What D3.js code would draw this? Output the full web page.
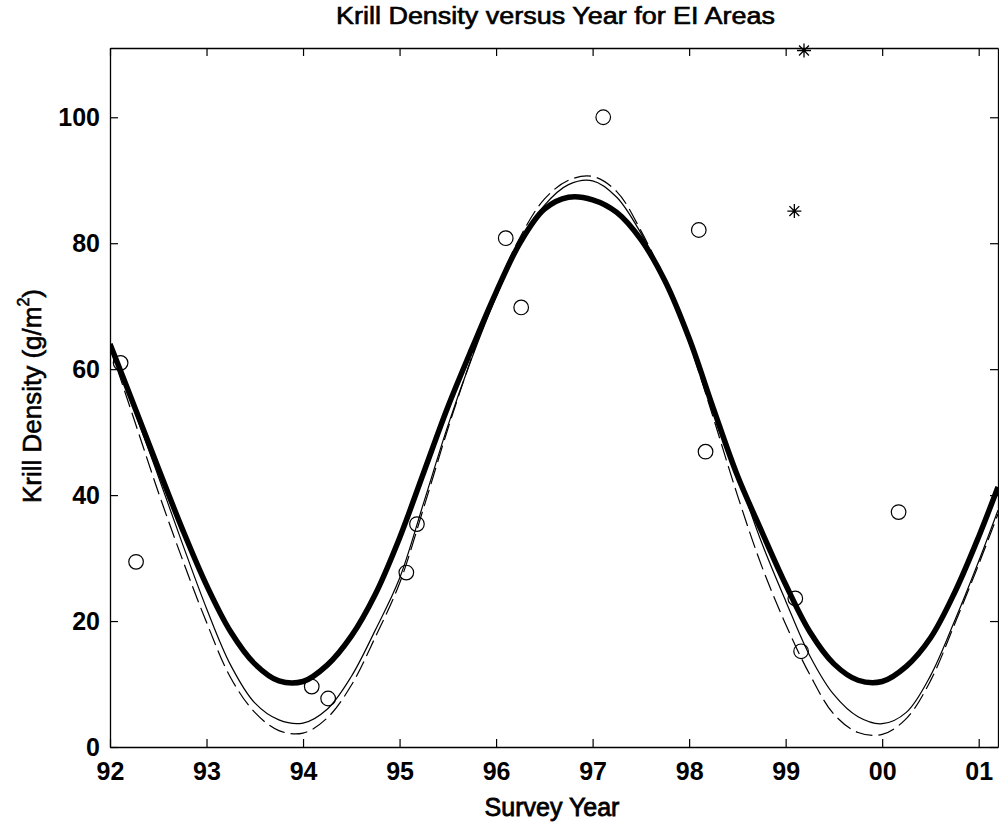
<!DOCTYPE html>
<html>
<head>
<meta charset="utf-8">
<script src="https://cdn.jsdelivr.net/npm/d3@7"></script>
<style>
  html, body { margin: 0; padding: 0; background: #fff; }
  svg { display: block; }
  text { font-family: "Liberation Sans", Arial, Helvetica, sans-serif; fill: #000; }
</style>
</head>
<body>
<svg id="chart" width="999" height="822"></svg>
<script>
// Survey observations (year, krill density g/m^2)
const obsYear    = [92.11, 92.27, 94.09, 94.26, 95.07, 95.18, 96.10, 96.26, 97.11, 98.10, 98.17, 99.10, 99.16, 100.17];
const obsDensity = [61.0, 29.4, 9.6, 7.7, 27.7, 35.4, 80.8, 69.8, 100.0, 82.1, 46.9, 23.6, 15.2, 37.3];

// Extra survey values marked with asterisks
const starYear    = [99.19, 99.09];
const starDensity = [110.6, 85.1];

// Fitted curves sampled along the survey years
const fitYear = [92.00, 92.25, 92.50, 92.75, 93.00, 93.25, 93.50, 93.75, 94.00, 94.25,
                 94.50, 94.75, 95.00, 95.25, 95.50, 95.75, 96.00, 96.25, 96.50, 96.75,
                 97.00, 97.25, 97.50, 97.75, 98.00, 98.25, 98.50, 98.75, 99.00, 99.25,
                 99.50, 99.75, 100.00, 100.25, 100.50, 100.75, 101.00, 101.20];
const fitMain = [64.0, 54.2, 44.3, 34.6, 25.7, 18.3, 13.2, 10.5, 10.4, 13.0,
                 17.6, 24.3, 33.2, 43.6, 54.0, 63.3, 72.2, 80.1, 85.4, 87.3,
                 86.9, 84.9, 80.6, 74.0, 64.9, 53.8, 43.1, 34.3, 25.8, 18.3,
                 13.2, 10.6, 10.4, 12.8, 17.3, 24.5, 33.4, 41.3];
const fitThin = [63.5, 53.5, 43.0, 32.3, 22.0, 13.0, 7.0, 4.3, 3.8, 6.0,
                 11.2, 18.6, 26.8, 38.8, 51.0, 61.8, 71.5, 80.0, 86.0, 89.3,
                 89.9, 87.3, 81.6, 74.0, 64.8, 53.8, 43.3, 32.5, 23.2, 14.5,
                 8.3, 4.8, 3.7, 5.5, 11.3, 20.0, 29.5, 37.6];
const fitDash = [63.5, 52.0, 40.5, 29.8, 19.8, 11.0, 5.5, 2.6, 2.2, 4.6,
                 9.8, 17.5, 26.0, 38.0, 50.5, 62.0, 72.5, 81.0, 87.0, 90.0,
                 90.6, 88.2, 82.0, 74.0, 64.2, 52.3, 40.0, 28.8, 19.5, 11.5,
                 5.2, 2.3, 2.0, 4.5, 10.5, 19.5, 29.0, 37.0];

// Axis ticks
const xTicks      = [92, 93, 94, 95, 96, 97, 98, 99, 100, 101];
const xTickLabels = ["92", "93", "94", "95", "96", "97", "98", "99", "00", "01"];
const yTicks      = [0, 20, 40, 60, 80, 100];

const svg = d3.select("#chart");
const plotL = 110, plotR = 998, plotT = 48, plotB = 747;

const x = d3.scaleLinear().domain([92, 101.2]).range([plotL, plotR]);
const y = d3.scaleLinear().domain([0, 111]).range([plotB, plotT]);

svg.append("rect").attr("width", 999).attr("height", 822).attr("fill", "#fff");

svg.append("defs").append("clipPath").attr("id", "plotClip")
  .append("rect").attr("x", plotL).attr("y", plotT - 10)
  .attr("width", plotR - plotL).attr("height", plotB - plotT + 10);

// Axes: ticks point inward on all four sides
const tickLen = 8;
const axBottom = d3.axisBottom(x).tickValues(xTicks).tickFormat((d, i) => xTickLabels[i])
  .tickSizeInner(-tickLen).tickSizeOuter(0).tickPadding(18);
const axTop = d3.axisTop(x).tickValues(xTicks).tickFormat("")
  .tickSizeInner(-tickLen).tickSizeOuter(0);
const axLeft = d3.axisLeft(y).tickValues(yTicks)
  .tickSizeInner(-tickLen).tickSizeOuter(0).tickPadding(18);
const axRight = d3.axisRight(y).tickValues(yTicks).tickFormat("")
  .tickSizeInner(-tickLen).tickSizeOuter(0);

function styleAxis(g) {
  g.select(".domain").attr("stroke", "#000").attr("stroke-width", 1.3);
  g.selectAll(".tick line").attr("stroke", "#000").attr("stroke-width", 1.2);
  g.selectAll(".tick text").attr("font-size", 25).attr("font-weight", "bold")
    .attr("font-family", "Liberation Sans, Arial, sans-serif").attr("fill", "#000");
}

svg.append("g").attr("transform", `translate(0,${plotB})`).call(axBottom).call(styleAxis)
  .selectAll(".tick text").attr("dy", "0.71em").attr("y", 15);
svg.append("g").attr("transform", `translate(0,${plotT})`).call(axTop).call(styleAxis);
svg.append("g").attr("transform", `translate(${plotL},0)`).call(axLeft).call(styleAxis)
  .selectAll(".tick text").attr("x", -10);
svg.append("g").attr("transform", `translate(${plotR},0)`).call(axRight).call(styleAxis);

// Fitted curves
const plot = svg.append("g").attr("clip-path", "url(#plotClip)");
const line = d3.line()
  .x((d, i) => x(fitYear[i]))
  .y(d => y(d))
  .curve(d3.curveCatmullRom.alpha(0.5));

plot.append("path").datum(fitDash).attr("d", line)
  .attr("fill", "none").attr("stroke", "#000").attr("stroke-width", 1.2)
  .attr("stroke-dasharray", "17,6");
plot.append("path").datum(fitThin).attr("d", line)
  .attr("fill", "none").attr("stroke", "#000").attr("stroke-width", 1.2);
plot.append("path").datum(fitMain).attr("d", line)
  .attr("fill", "none").attr("stroke", "#000").attr("stroke-width", 5.5)
  .attr("stroke-linejoin", "round");

// Observations as open circles
svg.append("g").selectAll("circle").data(obsDensity).join("circle")
  .attr("cx", (d, i) => x(obsYear[i]))
  .attr("cy", d => y(d))
  .attr("r", 7.3)
  .attr("fill", "none").attr("stroke", "#000").attr("stroke-width", 1.2);

// Asterisk markers (plus and cross combined)
const starSymbol = {
  draw(ctx, size) {
    const r = Math.sqrt(size) / 2;
    const k = r * Math.SQRT1_2;
    ctx.moveTo(-r, 0); ctx.lineTo(r, 0);
    ctx.moveTo(0, -r); ctx.lineTo(0, r);
    ctx.moveTo(-k, -k); ctx.lineTo(k, k);
    ctx.moveTo(-k, k); ctx.lineTo(k, -k);
  }
};
svg.append("g").selectAll("path").data(starDensity).join("path")
  .attr("transform", (d, i) => `translate(${x(starYear[i])},${y(d)})`)
  .attr("d", d3.symbol().type(starSymbol).size(196))
  .attr("fill", "none").attr("stroke", "#000").attr("stroke-width", 1.3);

// Titles
svg.append("text").attr("x", 555.5).attr("y", 24)
  .attr("text-anchor", "middle").attr("font-size", 23)
  .attr("stroke", "#000").attr("stroke-width", 0.6)
  .attr("textLength", 439).attr("lengthAdjust", "spacingAndGlyphs")
  .text("Krill Density versus Year for EI Areas");

svg.append("text").attr("x", 552).attr("y", 816)
  .attr("text-anchor", "middle").attr("font-size", 25)
  .attr("stroke", "#000").attr("stroke-width", 0.8)
  .text("Survey Year");

const yl = svg.append("text")
  .attr("transform", "translate(41,396) rotate(-90)")
  .attr("text-anchor", "middle").attr("font-size", 26)
  .attr("stroke", "#000").attr("stroke-width", 0.6);
yl.append("tspan").text("Krill Density (g/m");
yl.append("tspan").attr("font-size", 16).attr("dy", -12).text("2");
yl.append("tspan").attr("dy", 12).text(")");
</script>
</body>
</html>
